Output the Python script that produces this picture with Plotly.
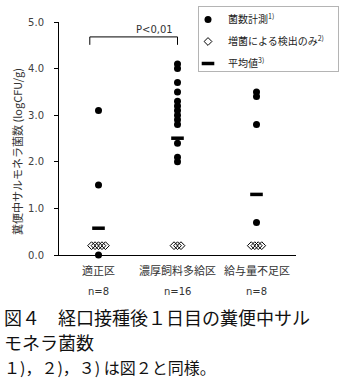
import plotly.graph_objects as go

# --- data ---------------------------------------------------------------
groups = ["適正区", "濃厚飼料多給区", "給与量不足区"]
n_labels = ["n=8", "n=16", "n=8"]
# counted samples (log CFU/g)
counted = [
    [3.1, 1.5, 0.0],
    [4.1, 4.0, 3.7, 3.5, 3.3, 3.2, 3.1, 3.0, 2.9, 2.8, 2.4, 2.1, 2.0],
    [3.5, 3.4, 2.8, 0.7],
]
# samples detected only after enrichment (counted as 0 in the mean)
enrich_only = [5, 3, 4]
enrich_level = 0.2
sample_n = [8, 16, 8]
y_ticks = [0, 1, 2, 3, 4, 5]
y_ticktext = ["0.0", "1.0", "2.0", "3.0", "4.0", "5.0"]
p_text = "P<0,01"

means = [sum(c) / n for c, n in zip(counted, sample_n)]

# --- figure geometry (pixels) ----------------------------------------------
W, H = 341, 383
L, R, T, B = 59, 45, 22, 128
PW, PH = W - L - R, H - T - B


def px(x):
    return (x - L) / PW


def py(y):
    return (H - B - y) / PH


fig = go.Figure()

cx = [1, 2, 3]
dx, dy = [], []
for i, vals in enumerate(counted):
    dx += [cx[i]] * len(vals)
    dy += vals
fig.add_trace(go.Scatter(
    x=dx, y=dy, mode="markers", name="菌数計測<sup>1)</sup>", legendgroup="a",
    marker=dict(symbol="circle", size=7, color="black"),
    cliponaxis=False,
))

step = 0.044
ex, ey = [], []
for i, k in enumerate(enrich_only):
    for j in range(k):
        ex.append(cx[i] + (j - (k - 1) / 2) * step)
        ey.append(enrich_level)
fig.add_trace(go.Scatter(
    x=ex, y=ey, mode="markers", name="増菌による検出のみ<sup>2)</sup>", legendgroup="b",
    marker=dict(symbol="diamond-open", size=6, color="black",
                line=dict(width=1, color="black")),
    cliponaxis=False,
))

fig.add_trace(go.Scatter(
    x=cx, y=means, mode="markers", name="平均値<sup>3)</sup>", legendgroup="c",
    marker=dict(symbol="line-ew", size=9, color="black",
                line=dict(width=3.5, color="black")),
    cliponaxis=False,
))

# significance bracket
bx0, bx1, by_top, by_bot = 0.89, 2.0, 4.68, 4.51
for x0, y0, x1, y1 in [(bx0, by_top, bx1, by_top), (bx0, by_top, bx0, by_bot),
                       (bx1, by_top, bx1, by_bot)]:
    fig.add_shape(type="line", x0=x0, y0=y0, x1=x1, y1=y1, xref="x", yref="y",
                  line=dict(color="black", width=1))
fig.add_annotation(x=1.71, y=4.83, xref="x", yref="y", text=p_text,
                   showarrow=False, xanchor="center", yanchor="middle",
                   font=dict(family="DejaVu Sans", size=10, color="#333"))

# legend frame (an empty bordered box)
fig.add_annotation(x=px(198), y=py(6), xref="paper", yref="paper",
                   xanchor="left", yanchor="top", text=" ", showarrow=False,
                   width=139, height=64, borderpad=0,
                   bordercolor="#b4b4b4", borderwidth=1)

# category labels and sample sizes
for i in range(3):
    fig.add_annotation(x=cx[i], y=py(270), xref="x", yref="paper", text=groups[i],
                       showarrow=False, xanchor="center", yanchor="middle",
                       font=dict(family="Noto Sans CJK JP", size=11, color="#333"))
    fig.add_annotation(x=cx[i], y=py(291), xref="x", yref="paper", text=n_labels[i],
                       showarrow=False, xanchor="center", yanchor="middle",
                       font=dict(family="DejaVu Sans", size=10, color="#333"))

# y-axis title
fig.add_annotation(x=px(17), y=py(152), xref="paper", yref="paper",
                   text="糞便中サルモネラ菌数 (logCFU/g)", textangle=-90,
                   showarrow=False, xanchor="center", yanchor="middle",
                   font=dict(family="Noto Sans CJK JP", size=11, color="#333"))

# caption
caption = [
    ("図４　経口接種後１日目の糞便中サル", 317, 18),
    ("モネラ菌数", 342, 18),
    ("１)，２)，３) は図２と同様。", 367, 16),
]
for text, ypix, size in caption:
    fig.add_annotation(x=px(2), y=py(ypix), xref="paper", yref="paper",
                       xanchor="left", yanchor="middle", text=text,
                       showarrow=False,
                       font=dict(family="Noto Sans CJK JP", size=size, color="#111"))

fig.update_layout(
    width=W, height=H,
    margin=dict(l=L, r=R, t=T, b=B, autoexpand=False),
    paper_bgcolor="white", plot_bgcolor="white",
    showlegend=True,
    legend=dict(x=px(188), y=py(5), xanchor="left", yanchor="top",
                borderwidth=0, bgcolor="rgba(0,0,0,0)",
                traceorder="grouped", tracegroupgap=3,
                font=dict(family="Noto Sans CJK JP", size=10, color="#222"),
                itemwidth=30),
    xaxis=dict(range=[0.5, 3.5], showticklabels=False, ticks="", showgrid=False,
               zeroline=False, showline=True, linecolor="black", linewidth=1,
               fixedrange=True),
    yaxis=dict(range=[0, 5], tickvals=y_ticks, ticktext=y_ticktext,
               ticks="outside", ticklen=4, tickcolor="black", showgrid=False,
               zeroline=False, showline=True, linecolor="black", linewidth=1,
               ticklabelstandoff=8,
               tickfont=dict(family="DejaVu Sans", size=10, color="#404040")),
)

fig.write_html("out.html")
